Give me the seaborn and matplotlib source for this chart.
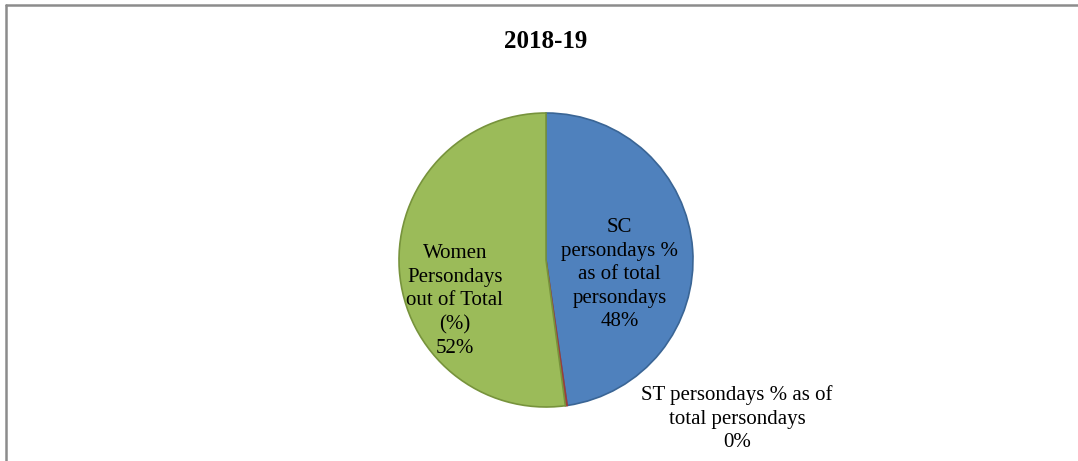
import matplotlib
matplotlib.use("Agg")
import matplotlib.pyplot as plt
from matplotlib.lines import Line2D
import seaborn as sns

# values (percent of total persondays)
categories = ["SC persondays % as of total persondays",
              "ST persondays % as of total persondays",
              "Women Persondays out of Total (%)"]
values = [47.7, 0.2, 52.1]
shown_pct = ["48%", "0%", "52%"]
label_lines = ["SC\npersondays %\nas of total\npersondays",
               "ST persondays % as of\ntotal persondays",
               "Women\nPersondays\nout of Total\n(%)"]
title = "2018-19"

sns.set_theme(style="white")
plt.rcParams["font.family"] = ["Liberation Serif", "DejaVu Serif"]
plt.rcParams["text.color"] = "black"

colors = ["#4F81BD", "#C0504D", "#9BBB59"]
edges = ["#3A6595", "#9C3D3A", "#77933C"]

W, H = 1078, 461
fig = plt.figure(figsize=(W / 100, H / 100), dpi=100)
fig.patch.set_facecolor("white")

# pie centre and radius in pixels
cx, cy, r = 546, 260, 147
ax = fig.add_axes([(cx - r) / W, (H - cy - r) / H, 2 * r / W, 2 * r / H])

wedges, _ = ax.pie(values, colors=colors, startangle=90, counterclock=False,
                   wedgeprops=dict(linewidth=1.2))
for w, ec in zip(wedges, edges):
    w.set_edgecolor(ec)
ax.set_xlim(-1, 1)
ax.set_ylim(-1, 1)
ax.set_aspect("equal")
ax.axis("off")

label_pos = [(0.50, -0.10), (1.30, -1.08), (-0.62, -0.28)]
for txt, pct, (lx, ly) in zip(label_lines, shown_pct, label_pos):
    ax.text(lx, ly, txt + "\n" + pct, ha="center", va="center",
            fontsize=15, color="black", linespacing=1.33)

fig.text(546 / W, 1 - 42 / H, title, ha="center", va="center",
         fontsize=18, fontweight="bold", color="black")

# chart frame (only top and left edges visible)
fig.add_artist(Line2D([5.5 / W, 1.0], [1 - 5.5 / H, 1 - 5.5 / H],
                      transform=fig.transFigure, color="#8C8C8C", linewidth=1.8))
fig.add_artist(Line2D([5.5 / W, 5.5 / W], [0.0, 1 - 5.5 / H],
                      transform=fig.transFigure, color="#8C8C8C", linewidth=1.8))

fig.savefig("out.png", dpi=100)
